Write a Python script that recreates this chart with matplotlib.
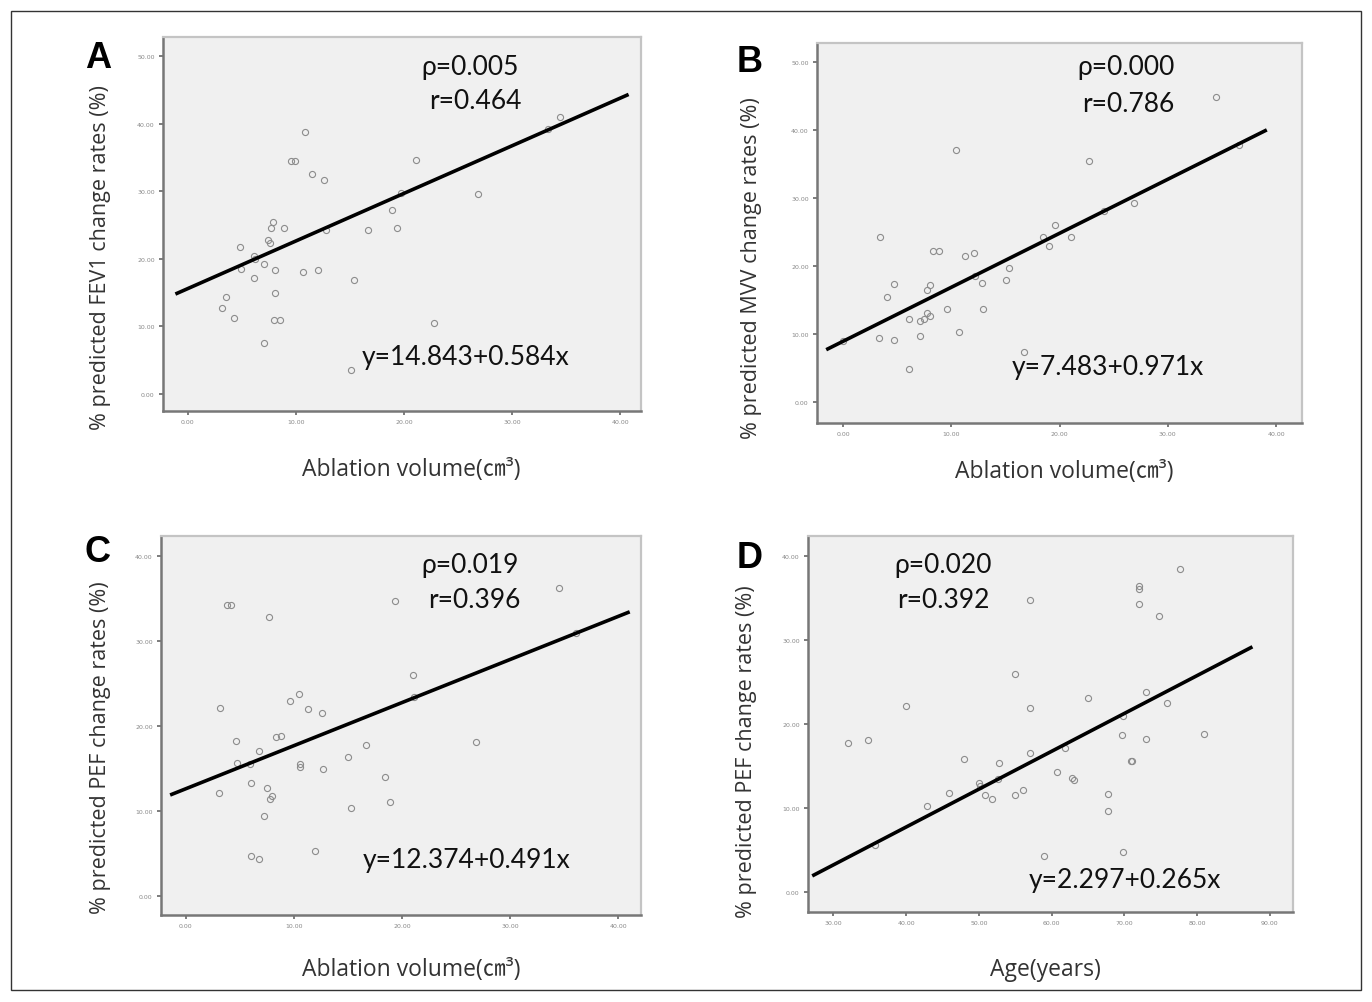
import numpy as np
import matplotlib
matplotlib.use("Agg")
import matplotlib.pyplot as plt
from matplotlib.patches import Rectangle

# ===================== DATOS =====================
# Panel A: volumen de ablación vs % FEV1
a_x = [34.4, 10.8, 9.5, 9.9, 21.1, 11.5, 12.6, 26.8, 18.9, 7.9, 7.7, 8.9, 12.8, 16.7,
       19.3, 7.4, 7.6, 4.8, 6.1, 6.2, 7.0, 4.9, 8.1, 10.6, 12.0, 6.1, 15.4, 8.1, 3.5,
       3.2, 4.3, 8.0, 8.5, 22.8, 7.0, 15.1, 33.3, 19.7]
a_y = [40.9, 38.7, 34.4, 34.4, 34.6, 32.6, 31.6, 29.6, 27.2, 25.4, 24.5, 24.5, 24.3, 24.3,
       24.5, 22.8, 22.4, 21.7, 20.4, 20.0, 19.2, 18.5, 18.4, 18.1, 18.4, 17.1, 16.9, 15.0, 14.4,
       12.8, 11.3, 10.9, 10.9, 10.5, 7.5, 3.5, 39.2, 29.7]
a_fit_x = [-1.0, 40.6]
a_fit_y = [14.9, 44.2]

# Panel B: volumen de ablación vs % MVV
b_x = [34.5, 10.4, 22.7, 26.9, 19.6, 3.4, 21.1, 18.5, 19.0, 8.3, 8.9, 11.3, 12.1, 15.3,
       15.1, 12.2, 12.8, 4.7, 8.0, 7.8, 4.1, 9.6, 12.9, 7.8, 8.0, 7.5, 6.1, 7.1, 10.7,
       7.1, 3.3, 4.7, 16.7, 6.1, 0.0, 24.1, 36.6]
b_y = [44.8, 37.0, 35.5, 29.2, 26.0, 24.3, 24.2, 24.2, 23.0, 22.2, 22.2, 21.4, 21.9, 19.7,
       18.0, 18.5, 17.5, 17.3, 17.2, 16.4, 15.5, 13.6, 13.6, 13.1, 12.6, 12.2, 12.2, 11.9, 10.3,
       9.7, 9.4, 9.1, 7.4, 4.8, 8.9, 28.1, 37.8]
b_fit_x = [-1.4, 39.0]
b_fit_y = [7.8, 39.9]

# Panel C: volumen de ablación vs % PEF
c_x = [34.5, 3.8, 4.2, 19.3, 7.7, 21.0, 10.5, 9.6, 11.3, 12.6, 3.2, 8.8, 8.3, 4.6, 26.8,
       16.7, 6.8, 4.7, 5.9, 10.6, 10.6, 15.0, 12.7, 18.4, 6.0, 7.5, 3.1, 8.0, 7.8, 18.9,
       15.3, 7.2, 11.9, 6.0, 6.8, 21.1, 36.1]
c_y = [36.3, 34.3, 34.3, 34.8, 32.9, 26.0, 23.8, 23.0, 22.0, 21.6, 22.2, 18.9, 18.7, 18.3, 18.1,
       17.8, 17.1, 15.7, 15.6, 15.6, 15.2, 16.4, 15.0, 14.0, 13.3, 12.7, 12.1, 11.8, 11.5, 11.1,
       10.4, 9.5, 5.3, 4.7, 4.4, 23.5, 31.0]
c_fit_x = [-1.3, 40.9]
c_fit_y = [12.0, 33.4]

# Panel D: edad vs % PEF
d_x = [77.7, 72.0, 72.0, 57.0, 72.0, 74.8, 55.0, 73.0, 65.0, 75.9, 40.0, 57.0, 69.8, 81.0,
       69.7, 32.0, 34.8, 73.0, 61.8, 57.0, 48.0, 70.9, 71.1, 52.7, 60.8, 62.8, 63.1, 50.0,
       50.1, 52.6, 45.9, 56.0, 54.9, 50.9, 51.8, 67.8, 42.9, 67.8, 69.8, 58.9, 35.7]
d_y = [38.5, 36.5, 36.1, 34.8, 34.3, 32.9, 25.9, 23.8, 23.1, 22.5, 22.2, 21.9, 21.0, 18.8,
       18.7, 17.7, 18.1, 18.2, 17.1, 16.5, 15.8, 15.6, 15.6, 15.3, 14.3, 13.6, 13.3, 13.0,
       12.6, 13.4, 11.8, 12.1, 11.6, 11.6, 11.1, 11.7, 10.2, 9.6, 4.7, 4.3, 5.6]
d_fit_x = [27.3, 87.4]
d_fit_y = [2.0, 29.1]

letras = ["A", "B", "C", "D"]
ylabels = ["% predicted FEV1 change rates (%)",
           "% predicted MVV change rates (%)",
           "% predicted PEF change rates (%)",
           "% predicted PEF change rates (%)"]
xlabels = ["Ablation volume(㎝³)", "Ablation volume(㎝³)",
           "Ablation volume(㎝³)", "Age(years)"]
p_textos = ["ρ=0.005", "ρ=0.000", "ρ=0.019", "ρ=0.020"]
r_textos = ["r=0.464", "r=0.786", "r=0.396", "r=0.392"]
ecuaciones = ["y=14.843+0.584x", "y=7.483+0.971x",
              "y=12.374+0.491x", "y=2.297+0.265x"]
# =================================================

W, H = 1372, 1003
fig = plt.figure(figsize=(W / 100, H / 100), dpi=100)
fig.patch.set_facecolor("white")

# borde exterior de la figura
fig.patches.append(Rectangle((11 / W, 1 - 991 / H), 1350 / W, 979 / H,
                             transform=fig.transFigure, fill=False,
                             edgecolor="#333333", linewidth=1.0))

# cajas de ejes en píxeles: izquierda, arriba, derecha, abajo
cajas = [(163, 38, 641, 412), (817, 44, 1302, 424),
         (161, 537, 641, 916), (808, 537, 1293, 913)]
xlims = [(-2.3, 41.9), (-2.4, 42.4), (-2.3, 42.1), (26.5, 93.2)]
ylims = [(-2.5, 52.8), (-3.1, 52.8), (-2.2, 42.4), (-2.4, 42.4)]
xticks = [np.arange(0, 41, 10), np.arange(0, 41, 10),
          np.arange(0, 41, 10), np.arange(30, 91, 10)]
yticks = [np.arange(0, 51, 10), np.arange(0, 51, 10),
          np.arange(0, 41, 10), np.arange(0, 41, 10)]
datos = [(a_x, a_y, a_fit_x, a_fit_y), (b_x, b_y, b_fit_x, b_fit_y),
         (c_x, c_y, c_fit_x, c_fit_y), (d_x, d_y, d_fit_x, d_fit_y)]

# posiciones de textos en píxeles
pos_letra = [(98, 58), (750, 63), (97, 553), (750, 558)]
pos_p = [(470, 68), (1126, 68), (470, 566), (943, 566)]
pos_r = [(475, 102), (1128, 104), (474, 601), (943, 601)]
pos_ec = [(466, 358), (1108, 367), (467, 861), (1125, 881)]
pos_ylab = [(101, 258), (752, 268), (101, 748), (747, 752)]
pos_xlab = [(411, 470), (1064, 472), (411, 970), (1045, 970)]


def fx(px):
    return px / W


def fy(py):
    return 1 - py / H


fuente_txt = ["Lato", "DejaVu Sans"]
fuente_lab = ["Open Sans", "Noto Sans CJK SC", "DejaVu Sans"]

for i in range(4):
    l, t, r, b = cajas[i]
    ax = fig.add_axes([fx(l), fy(b), (r - l) / W, (b - t) / H])
    ax.set_facecolor("#f0f0f0")
    x, y, fx_, fy_ = datos[i]
    ax.plot(x, y, "o", markersize=4.4, markerfacecolor="none",
            markeredgecolor="#8c8c8c", markeredgewidth=0.8, zorder=2)
    ax.plot(fx_, fy_, color="black", linewidth=2.6, zorder=3)
    ax.set_xlim(xlims[i])
    ax.set_ylim(ylims[i])
    ax.set_xticks(xticks[i])
    ax.set_yticks(yticks[i])
    ax.set_xticklabels([f"{v:.2f}" for v in xticks[i]])
    ax.set_yticklabels([f"{v:.2f}" for v in yticks[i]])
    ax.tick_params(labelsize=4.5, labelcolor="#888888", color="#666666",
                   length=3, width=1.2, direction="out", pad=3)
    for lado in ["top", "right"]:
        ax.spines[lado].set_color("#c4c4c4")
        ax.spines[lado].set_linewidth(1.6)
    for lado in ["left", "bottom"]:
        ax.spines[lado].set_color("#777777")
        ax.spines[lado].set_linewidth(1.8)

    fig.text(fx(pos_letra[i][0]), fy(pos_letra[i][1]), letras[i],
             fontsize=26, fontweight="bold", family="Liberation Sans",
             ha="center", va="center", color="black")
    fig.text(fx(pos_p[i][0]), fy(pos_p[i][1]), p_textos[i], fontsize=19,
             family=fuente_txt, ha="center", va="center", color="#111111")
    fig.text(fx(pos_r[i][0]), fy(pos_r[i][1]), r_textos[i], fontsize=19,
             family=fuente_txt, ha="center", va="center", color="#111111")
    fig.text(fx(pos_ec[i][0]), fy(pos_ec[i][1]), ecuaciones[i], fontsize=19,
             family=fuente_txt, ha="center", va="center", color="#111111")
    fig.text(fx(pos_ylab[i][0]), fy(pos_ylab[i][1]), ylabels[i], fontsize=15.5,
             family=fuente_lab, rotation=90, ha="center", va="center",
             color="#333333")
    fig.text(fx(pos_xlab[i][0]), fy(pos_xlab[i][1]), xlabels[i], fontsize=16.5,
             family=fuente_lab, ha="center", va="center", color="#333333")

plt.savefig("out.png", dpi=100)
